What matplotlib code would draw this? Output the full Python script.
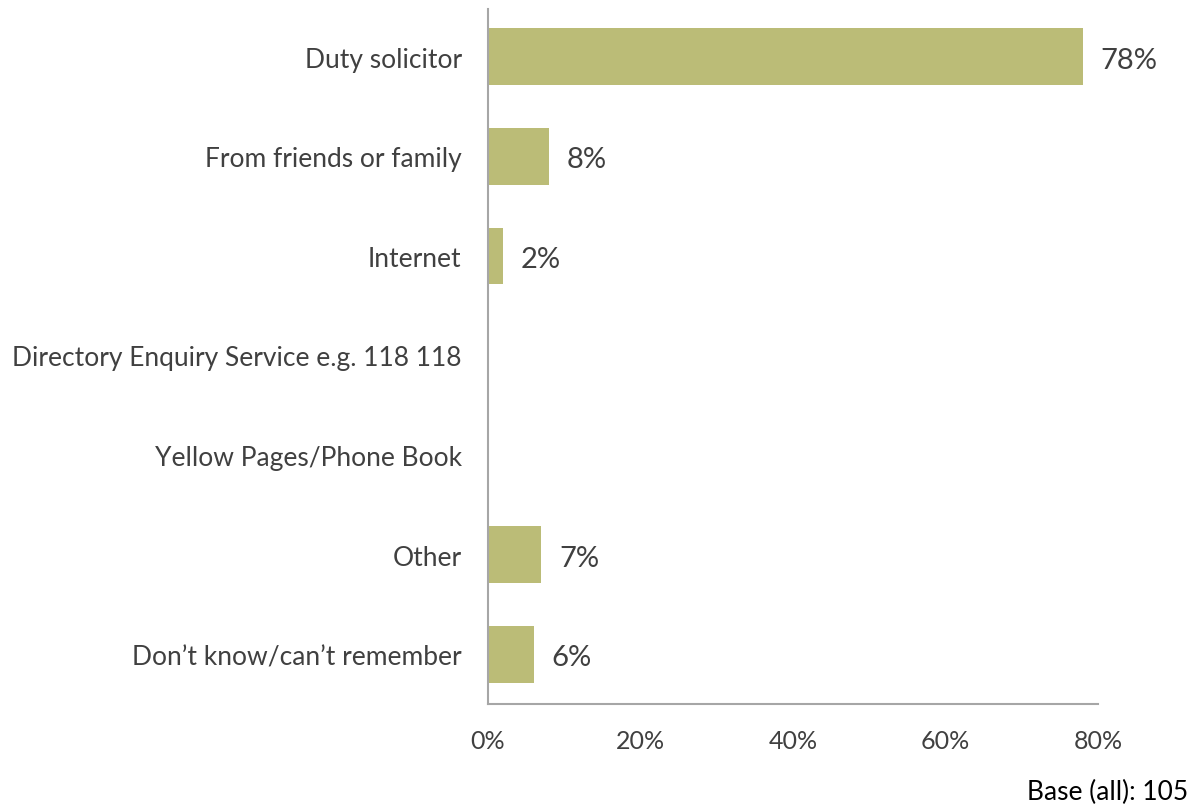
import matplotlib
matplotlib.use("Agg")
import matplotlib.pyplot as plt

# ── Datos ──────────────────────────────────────────────────────────────────────
categories = [
    "Duty solicitor",
    "From friends or family",
    "Internet",
    "Directory Enquiry Service e.g. 118 118",
    "Yellow Pages/Phone Book",
    "Other",
    "Don\u2019t know/can\u2019t remember",
]
values = [78, 8, 2, 0, 0, 7, 6]
xticks = [0, 20, 40, 60, 80]
base_note = "Base (all): 105"

BAR_COLOR  = "#BBBC77"
TEXT_COLOR = "#404040"
AXIS_COLOR = "#A6A6A6"

plt.rcParams["font.family"] = ["Lato", "DejaVu Sans"]

fig = plt.figure(figsize=(11.95, 8.12), dpi=100)
ax = fig.add_axes([0.4084, 0.1318, 0.5104, 0.8559])

pos = list(range(len(categories)))
ax.barh(pos, values, height=0.57, color=BAR_COLOR)

# etiquetas de valor a la derecha de cada barra (solo si hay barra)
for y, v in zip(pos, values):
    if v > 0:
        ax.text(v + 2.3, y + 0.03, f"{v}%", va="center", ha="left",
                fontsize=21, color=TEXT_COLOR)

ax.set_xlim(0, 80)
ax.set_ylim(6.50, -0.48)
ax.set_yticks(pos)
ax.set_yticklabels(categories, fontsize=19, color=TEXT_COLOR)
ax.set_xticks(xticks)
ax.set_xticklabels([f"{t}%" for t in xticks], fontsize=18, color=TEXT_COLOR)
ax.tick_params(axis="both", length=0)
ax.tick_params(axis="y", pad=19)
ax.tick_params(axis="x", pad=18)

for side in ("top", "right"):
    ax.spines[side].set_visible(False)
for side in ("left", "bottom"):
    ax.spines[side].set_color(AXIS_COLOR)
    ax.spines[side].set_linewidth(1.5)

fig.text(0.994, 0.008, base_note, ha="right", va="bottom",
         fontsize=19, color="black")

fig.savefig("out.png", dpi=100)
